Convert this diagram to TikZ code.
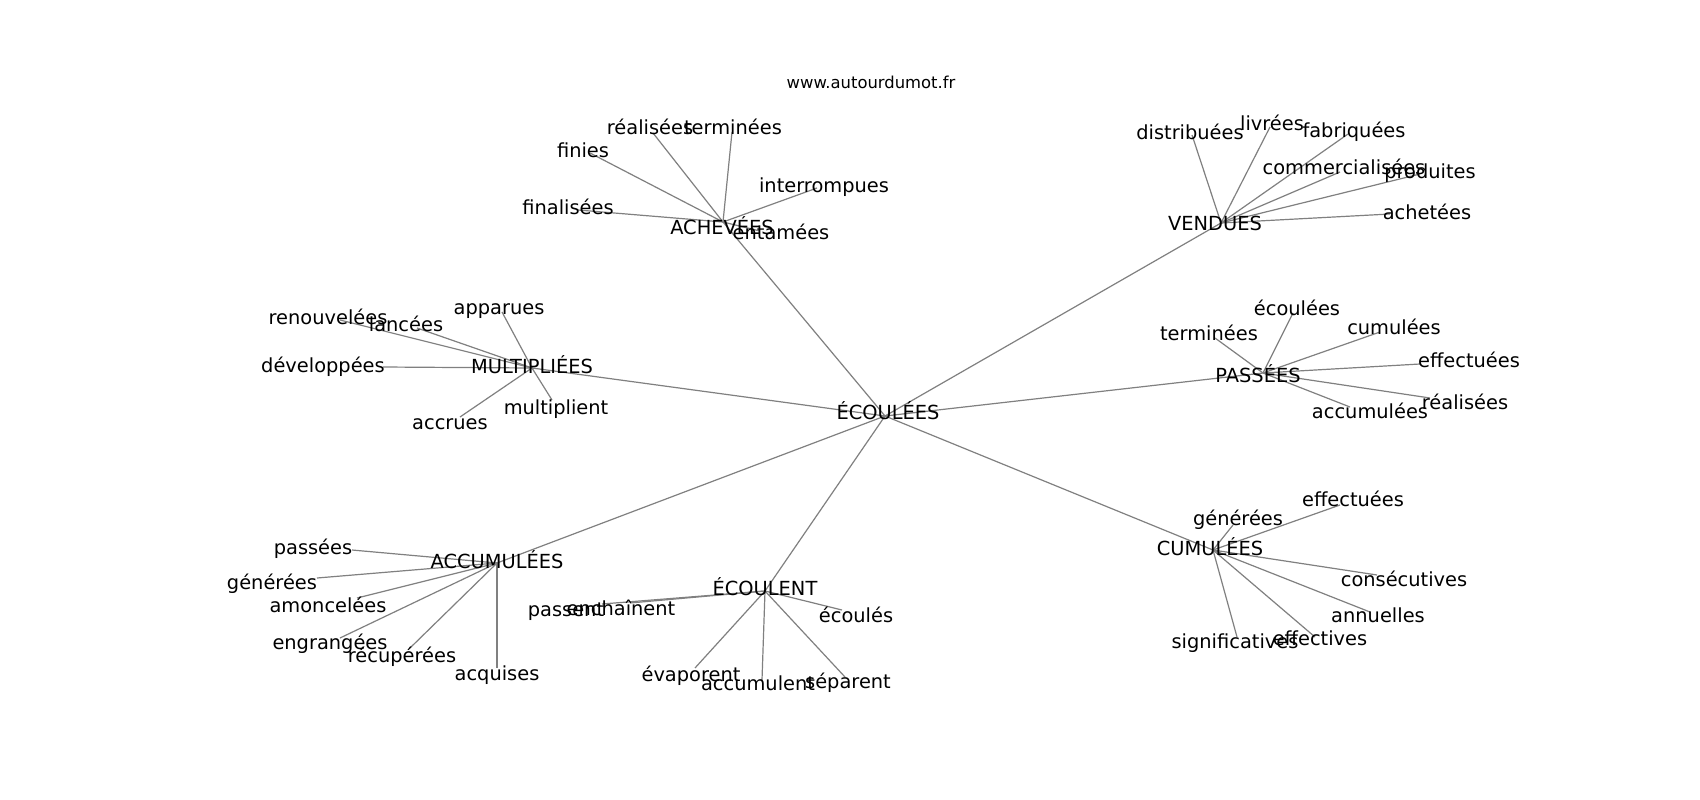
\documentclass[tikz,border=0pt]{standalone}
\usepackage{fontspec}
\setmainfont{DejaVu Sans}
\tikzset{
  lbl/.style={inner sep=0pt, text height=0.72em, text depth=0pt, yshift=-3.5pt, font=\fontsize{19.4}{22}\selectfont, text=black},
  ttl/.style={inner sep=0pt, text height=0.72em, text depth=0pt, yshift=-3pt, font=\fontsize{16.4}{19}\selectfont, text=black},
  edge/.style={draw=gray, line width=1.2pt}
}
\begin{document}
\begin{tikzpicture}[x=1pt,y=-1pt]
\useasboundingbox[fill=white] (0,0) rectangle (1700,800);

% ---------- vertices ----------
\coordinate (vC) at (885,416);
% ACHEVEES
\coordinate (vA) at (723,222);
\coordinate (vA1) at (653,133);
\coordinate (vA2) at (732,132);
\coordinate (vA3) at (590,153);
\coordinate (vA4) at (817,188);
\coordinate (vA5) at (578,210);
\coordinate (vA6) at (760,231);
% VENDUES
\coordinate (vV) at (1221,223);
\coordinate (vV1) at (1192,135);
\coordinate (vV2) at (1270,127);
\coordinate (vV3) at (1348,134);
\coordinate (vV4) at (1340,172);
\coordinate (vV5) at (1420,174);
\coordinate (vV6) at (1390,214);
% MULTIPLIEES
\coordinate (vM) at (532,368);
\coordinate (vM1) at (340,320);
\coordinate (vM2) at (417,328);
\coordinate (vM3) at (502,312);
\coordinate (vM4) at (383,367);
\coordinate (vM5) at (552,400);
\coordinate (vM6) at (460,417);
% PASSEES
\coordinate (vP) at (1263,373);
\coordinate (vP1) at (1293,313);
\coordinate (vP2) at (1215,338);
\coordinate (vP3) at (1380,332);
\coordinate (vP4) at (1420,364);
\coordinate (vP5) at (1430,398);
\coordinate (vP6) at (1350,407);
% ACCUMULEES
\coordinate (vK) at (497,563);
\coordinate (vK1) at (352,550);
\coordinate (vK2) at (317,578);
\coordinate (vK3) at (357,598);
\coordinate (vK4) at (340,638);
\coordinate (vK5) at (410,648);
\coordinate (vK6) at (497,668);
% ECOULENT
\coordinate (vE) at (765,591);
\coordinate (vE1) at (602,604);
\coordinate (vE2) at (630,603);
\coordinate (vE3) at (842,610);
\coordinate (vE4) at (695,668);
\coordinate (vE5) at (762,680);
\coordinate (vE6) at (845,677);
% CUMULEES
\coordinate (vU) at (1213,550);
\coordinate (vU1) at (1233,525);
\coordinate (vU2) at (1340,505);
\coordinate (vU3) at (1377,575);
\coordinate (vU4) at (1370,612);
\coordinate (vU5) at (1315,637);
\coordinate (vU6) at (1237,637);

% ---------- edges ----------
\foreach \h in {A,V,M,P,K,E,U}{
  \draw[edge] (vC) -- (v\h);
  \foreach \i in {1,...,6}{
    \draw[edge] (v\h) -- (v\h\i);
  }
}

% ---------- labels ----------
\node[ttl] (title) at (871,82) {www.autourdumot.fr};
\node[lbl] (lC) at (888,412) {ÉCOULÉES};

\node[lbl] (lA) at (722,227) {ACHEVÉES};
\node[lbl] (lA1) at (650,127) {réalisées};
\node[lbl] (lA2) at (733,127) {terminées};
\node[lbl] (lA3) at (583,150) {finies};
\node[lbl] (lA4) at (824,185) {interrompues};
\node[lbl] (lA5) at (568,207) {finalisées};
\node[lbl] (lA6) at (781,232) {entamées};

\node[lbl] (lV) at (1215,223) {VENDUES};
\node[lbl] (lV1) at (1190,132) {distribuées};
\node[lbl] (lV2) at (1272,123) {livrées};
\node[lbl] (lV3) at (1354,130) {fabriquées};
\node[lbl] (lV4) at (1344,167) {commercialisées};
\node[lbl] (lV5) at (1430,171) {produites};
\node[lbl] (lV6) at (1427,212) {achetées};

\node[lbl] (lM) at (532,366) {MULTIPLIÉES};
\node[lbl] (lM1) at (328,317) {renouvelées};
\node[lbl] (lM2) at (406,324) {lancées};
\node[lbl] (lM3) at (499,307) {apparues};
\node[lbl] (lM4) at (323,365) {développées};
\node[lbl] (lM5) at (556,407) {multiplient};
\node[lbl] (lM6) at (450,422) {accrues};

\node[lbl] (lP) at (1258,375) {PASSÉES};
\node[lbl] (lP1) at (1297,308) {écoulées};
\node[lbl] (lP2) at (1209,333) {terminées};
\node[lbl] (lP3) at (1394,327) {cumulées};
\node[lbl] (lP4) at (1469,360) {effectuées};
\node[lbl] (lP5) at (1465,402) {réalisées};
\node[lbl] (lP6) at (1370,411) {accumulées};

\node[lbl] (lK) at (497,561) {ACCUMULÉES};
\node[lbl] (lK1) at (313,547) {passées};
\node[lbl] (lK2) at (272,582) {générées};
\node[lbl] (lK3) at (328,605) {amoncelées};
\node[lbl] (lK4) at (330,642) {engrangées};
\node[lbl] (lK5) at (402,655) {récupérées};
\node[lbl] (lK6) at (497,673) {acquises};

\node[lbl] (lE) at (765,588) {ÉCOULENT};
\node[lbl] (lE1) at (566,609) {passent};
\node[lbl] (lE2) at (621,608) {enchaînent};
\node[lbl] (lE3) at (856,615) {écoulés};
\node[lbl] (lE4) at (691,674) {évaporent};
\node[lbl] (lE5) at (758,683) {accumulent};
\node[lbl] (lE6) at (848,681) {séparent};

\node[lbl] (lU) at (1210,548) {CUMULÉES};
\node[lbl] (lU1) at (1238,518) {générées};
\node[lbl] (lU2) at (1353,499) {effectuées};
\node[lbl] (lU3) at (1404,579) {consécutives};
\node[lbl] (lU4) at (1378,615) {annuelles};
\node[lbl] (lU5) at (1320,638) {effectives};
\node[lbl] (lU6) at (1235,641) {significatives};
\end{tikzpicture}
\end{document}
